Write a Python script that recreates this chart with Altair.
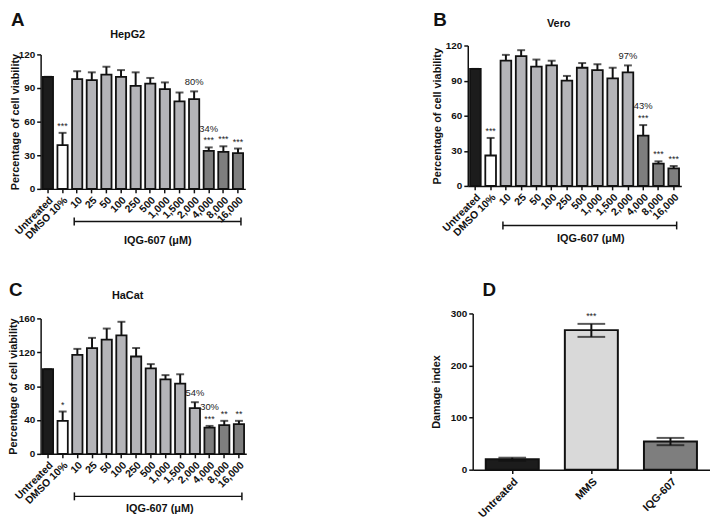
import altair as alt
import pandas as pd

FONT = "Liberation Sans"
INK = "#111111"

# ---------------- data ----------------
conc = ["Untreated", "DMSO 10%", "10", "25", "50", "100", "250", "500",
        "1,000", "1,500", "2,000", "4,000", "8,000", "16,000"]
group = ["Untreated", "DMSO", "low", "low", "low", "low", "low", "low",
         "low", "low", "low", "high", "high", "high"]

hepg2_mean = [100, 39, 98, 97, 102, 100, 92, 94, 89, 78, 80, 34, 33, 32]
hepg2_top = [100, 50, 105, 104, 109, 106, 104, 99, 95, 86, 87, 37, 38, 36]
hepg2_star = ["", "***", "", "", "", "", "", "", "", "", "", "***", "***", "***"]
hepg2_pct = ["", "", "", "", "", "", "", "", "", "", "80%", "34%", "", ""]

vero_mean = [100, 26, 107, 111, 102, 103, 90, 101, 99, 92, 97, 43, 19, 15]
vero_top = [100, 41, 112, 116, 108, 107, 94, 105, 104, 101, 103, 52, 21, 17]
vero_star = ["", "***", "", "", "", "", "", "", "", "", "", "***", "***", "***"]
vero_pct = ["", "", "", "", "", "", "", "", "", "", "97%", "43%", "", ""]

hacat_mean = [100, 39, 117, 125, 135, 140, 115, 101, 88, 83, 54, 31, 34, 35]
hacat_top = [100, 50, 124, 137, 148, 156, 125, 106, 93, 94, 61, 33, 39, 39]
hacat_star = ["", "*", "", "", "", "", "", "", "", "", "", "***", "**", "**"]
hacat_pct = ["", "", "", "", "", "", "", "", "", "", "54%", "30%", "", ""]

damage_cat = ["Untreated", "MMS", "IQG-607"]
damage_mean = [20, 268, 54]
damage_low = [17, 255, 47]
damage_high = [23, 280, 61]
damage_star = ["", "***", ""]

group_domain = ["Untreated", "DMSO", "low", "high"]
group_colors = ["#1c1c1c", "#ffffff", "#b4b4b8", "#7e7e7e"]
damage_colors = ["#1c1c1c", "#d9d9d9", "#7e7e7e"]


def text_layer(s, size, x, y, align="left", baseline="top", weight="bold"):
    return alt.Chart(pd.DataFrame({"t": [s]})).mark_text(
        fontSize=size, fontWeight=weight, align=align, baseline=baseline,
        font=FONT, color=INK
    ).encode(text="t:N", x=alt.value(x), y=alt.value(y))


def viability(letter, name, mean, top, star, pct, ymax, ticks, w, h, t, g):
    """h = plot height, t = empty band above the plot (panel group is h + t tall)."""
    H = h + t
    df = pd.DataFrame({"conc": conc, "group": group, "mean": mean,
                       "top": top, "star": star, "pct": pct})
    xscale = alt.Scale(domain=conc, paddingInner=0.3, paddingOuter=0.15)
    xaxis = alt.Axis(title="IQG-607 (μM)", labelAngle=-45, labelFontSize=10.5,
                     titleX=g["tx"], titleY=g["ty"], titleAngle=0,
                     titleAlign="center", titleBaseline="top",
                     titleFontSize=11, labelPadding=2)
    yscale = alt.Scale(domain=[0, ymax], nice=False, range=[H, t])
    yaxis = alt.Axis(title="Percentage of cell viability", values=ticks,
                     titleX=g["yx"], titleY=t + h / 2, titleAngle=-90,
                     titleAlign="center", titleBaseline="middle",
                     titleFontSize=11, labelFontSize=10, labelPadding=2)
    X = alt.X("conc:N", scale=xscale, axis=xaxis)
    Ytop = alt.Y("top:Q", scale=yscale, axis=yaxis)
    base = alt.Chart(df)
    bars = base.mark_bar(stroke=INK, strokeWidth=1.8).encode(
        x=X, y=alt.Y("mean:Q", scale=yscale, axis=yaxis),
        color=alt.Color("group:N", scale=alt.Scale(domain=group_domain, range=group_colors), legend=None))
    err = base.mark_rule(color=INK, strokeWidth=2).encode(
        x=X, y=alt.Y("mean:Q", scale=yscale, axis=yaxis), y2="top:Q")
    cap = base.mark_tick(color=INK, thickness=2, size=8).encode(x=X, y=Ytop)
    stars = base.mark_text(baseline="bottom", dy=-2, fontSize=9, font=FONT,
                           color="#222222").encode(x=X, y=Ytop, text="star:N")
    pct_alone = base.transform_filter("datum.star == ''").mark_text(
        baseline="bottom", dy=-4, fontSize=9.5, font=FONT, color="#222222").encode(
        x=X, y=Ytop, text="pct:N")
    pct_above = base.transform_filter("datum.star != ''").mark_text(
        baseline="bottom", dy=-14, fontSize=9.5, font=FONT, color="#222222").encode(
        x=X, y=Ytop, text="pct:N")
    br_df = pd.DataFrame({"conc": ["10"], "conc_end": ["16,000"]})
    by = H + g["by"]
    bracket = alt.Chart(br_df).mark_rule(color=INK, strokeWidth=1.5, xOffset=-3, x2Offset=3).encode(
        x=X, x2="conc_end:N", y=alt.value(by))
    endl = alt.Chart(pd.DataFrame({"conc": ["10"]})).mark_rule(color=INK, strokeWidth=1.5, xOffset=-3).encode(
        x=X, y=alt.value(by - 4), y2=alt.value(by + 4))
    endr = alt.Chart(pd.DataFrame({"conc": ["16,000"]})).mark_rule(color=INK, strokeWidth=1.5, xOffset=3).encode(
        x=X, y=alt.value(by - 4), y2=alt.value(by + 4))
    let = text_layer(letter, 19, g["lx"], g["ly"])
    ttl = text_layer(name, 11, g["nx"], g["ny"], align="center", baseline="middle")
    return alt.layer(bars, err, cap, stars, pct_alone, pct_above, bracket, endl, endr,
                     let, ttl).properties(width=w, height=H)


A = viability("A", "HepG2", hepg2_mean, hepg2_top, hepg2_star, hepg2_pct, 120,
              [0, 30, 60, 90, 120], 207, 136, 9,
              dict(tx=118, ty=46, yx=-25, by=33, lx=-30, ly=-35, nx=88, ny=-11))
B = viability("B", "Vero", vero_mean, vero_top, vero_star, vero_pct, 120,
              [0, 30, 60, 90, 120], 216, 142, 0,
              dict(tx=124, ty=47, yx=-31, by=40, lx=-35, ly=-35, nx=92, ny=-22))
C = viability("C", "HaCat", hacat_mean, hacat_top, hacat_star, hacat_pct, 160,
              [0, 40, 80, 120, 160], 208, 137, 5,
              dict(tx=120, ty=49, yx=-27, by=43, lx=-32, ly=-33, nx=88, ny=-18))

# ---------------- panel D ----------------
ddf = pd.DataFrame({"cat": damage_cat, "mean": damage_mean, "low": damage_low,
                    "high": damage_high, "star": damage_star})
dw, dh = 240, 158
DX = alt.X("cat:N", scale=alt.Scale(domain=damage_cat, paddingInner=0.33, paddingOuter=0.165),
           axis=alt.Axis(title=None, labelAngle=-45, labelFontSize=11, labelPadding=2))
dys = alt.Scale(domain=[0, 300], nice=False)
dya = alt.Axis(title="Damage index", values=[0, 100, 200, 300], titleX=-37, titleY=dh / 2,
               titleAngle=-90, titleAlign="center", titleBaseline="middle",
               titleFontSize=11, labelFontSize=10, labelPadding=2)
dbase = alt.Chart(ddf)
dbars = dbase.mark_bar(stroke=INK, strokeWidth=2).encode(
    x=DX, y=alt.Y("mean:Q", scale=dys, axis=dya),
    color=alt.Color("cat:N", scale=alt.Scale(domain=damage_cat, range=damage_colors), legend=None))
derr = dbase.mark_rule(color=INK, strokeWidth=2).encode(
    x=DX, y=alt.Y("low:Q", scale=dys, axis=dya), y2="high:Q")
dcap1 = dbase.mark_tick(color=INK, thickness=2, size=28).encode(
    x=DX, y=alt.Y("high:Q", scale=dys, axis=dya))
dcap2 = dbase.mark_tick(color=INK, thickness=2, size=28).encode(
    x=DX, y=alt.Y("low:Q", scale=dys, axis=dya))
dtxt = dbase.mark_text(baseline="bottom", dy=-3, fontSize=9, font=FONT, color="#222222").encode(
    x=DX, y=alt.Y("high:Q", scale=dys, axis=dya), text="star:N")
dlet = text_layer("D", 19, 10, -33)
D = alt.layer(dbars, derr, dcap1, dcap2, dtxt, dlet).properties(width=dw, height=dh)

row1 = alt.hconcat(A, B, spacing=188).resolve_scale(color="independent")
row2 = alt.hconcat(C, D, spacing=186).resolve_scale(color="independent")
chart = alt.vconcat(row1, row2, spacing=36).resolve_scale(color="independent").properties(
    padding=0, background="white")
chart = chart.configure_view(stroke=None).configure_axis(
    domainColor=INK, domainWidth=1.5, tickColor=INK, tickWidth=1.5, tickSize=4,
    labelColor=INK, titleColor=INK, labelFont=FONT, titleFont=FONT, grid=False,
    labelFontWeight="bold", titleFontWeight="bold")

chart.save("out.html", embed_options={"renderer": "svg", "actions": False})
